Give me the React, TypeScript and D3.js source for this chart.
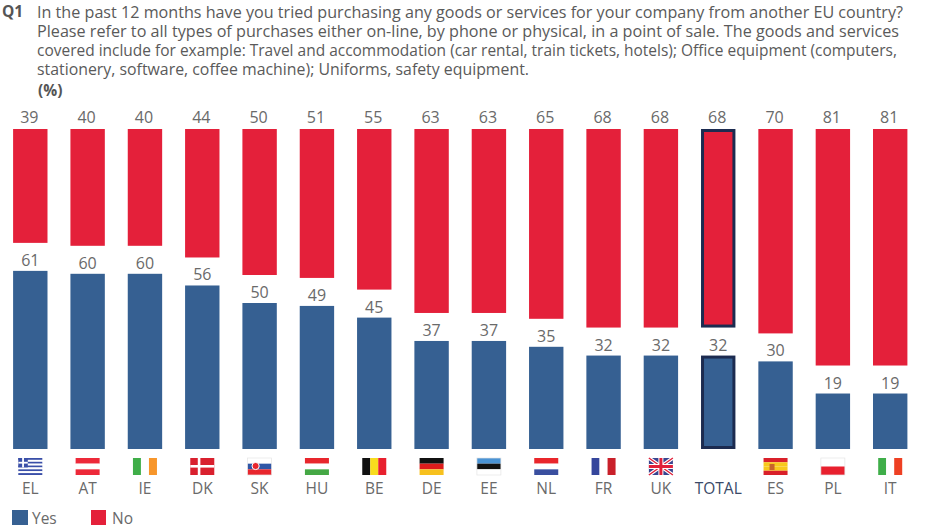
import React from "react";
import * as d3 from "d3";

const categories = ["EL","AT","IE","DK","SK","HU","BE","DE","EE","NL","FR","UK","TOTAL","ES","PL","IT"];
const yesValues = [61,60,60,56,50,49,45,37,37,35,32,32,32,30,19,19];
const noValues = [39,40,40,44,50,51,55,63,63,65,68,68,68,70,81,81];
const titleLines = [
  "In the past 12 months have you tried purchasing any goods or services for your company from another EU country?",
  "Please refer to all types of purchases either on-line, by phone or physical, in a point of sale. The goods and services",
  "covered include for example: Travel and accommodation (car rental, train tickets, hotels); Office equipment (computers,",
  "stationery, software, coffee machine); Uniforms, safety equipment.",
];
const titleWidths = [866, 862, 860, 492];
const FONT = "'Open Sans', sans-serif";
const BLUE = "#366092";
const RED = "#e4203a";
const NAVY = "#1c2b50";
const GREY = "#6a6a6a";

const x = d3.scaleBand<string>().domain(categories).range([4.5, 916]).paddingInner(0.4).paddingOuter(0.15);
const yYes = d3.scaleLinear().domain([0, 100]).range([449, 157]);
const yNo = d3.scaleLinear().domain([0, 100]).range([129, 421]);

const stripesH: Record<string, string[]> = {
  AT: ["#ed2939", "#ffffff", "#ed2939"],
  HU: ["#e8262d", "#ffffff", "#45a845"],
  DE: ["#111111", "#dd1c1c", "#f7c11e"],
  EE: ["#4a93d4", "#111111", "#ffffff"],
  NL: ["#e9262b", "#ffffff", "#3a4f9f"],
  PL: ["#ffffff", "#e8202e"],
  SK: ["#ffffff", "#2f56a6", "#e8262d"],
  ES: ["#d9202a", "#f8c81c", "#f8c81c", "#d9202a"],
};
const stripesV: Record<string, string[]> = {
  IE: ["#3fae49", "#ffffff", "#f7962b"],
  BE: ["#111111", "#f8dc1e", "#e8202e"],
  FR: ["#35469c", "#ffffff", "#c9202a"],
  IT: ["#3fae49", "#ffffff", "#ee4023"],
};
const outlinedFlags = ["EE", "PL", "SK"];

function Flag({ code, cx }: { code: string; cx: number }) {
  const w = 24, h = 17, l = cx - w / 2, t = 458;
  const hs = stripesH[code], vs = stripesV[code];
  if (code === "TOTAL") return null;
  const inner: React.ReactNode[] = [];
  if (hs) {
    hs.forEach((c, i) => inner.push(<rect key={i} x={l} y={t + (i * h) / hs.length} width={w} height={h / hs.length} fill={c} />));
    if (code === "SK") inner.push(<circle key="c" cx={l + 8} cy={t + 8} r={3.6} fill="#e8262d" stroke="#ffffff" strokeWidth={1} />);
    if (code === "ES") inner.push(<rect key="c" x={l + 6} y={t + 6} width={5} height={6} fill="#c8642a" />);
  } else if (vs) {
    vs.forEach((c, i) => inner.push(<rect key={i} x={l + (i * w) / vs.length} y={t} width={w / vs.length} height={h} fill={c} />));
  } else if (code === "EL") {
    const blue = "#3a4fa8";
    d3.range(9).forEach((i) => inner.push(<rect key={i} x={l} y={t + (i * h) / 9} width={w} height={h / 9} fill={i % 2 ? "#ffffff" : blue} />));
    inner.push(<rect key="b" x={l} y={t} width={9.5} height={9.4} fill={blue} />);
    inner.push(<rect key="h" x={l} y={t + 3.8} width={9.5} height={1.8} fill="#ffffff" />);
    inner.push(<rect key="v" x={l + 3.85} y={t} width={1.8} height={9.4} fill="#ffffff" />);
  } else if (code === "DK") {
    inner.push(<rect key="b" x={l} y={t} width={w} height={h} fill="#d9202e" />);
    inner.push(<rect key="h" x={l} y={t + 7} width={w} height={2.6} fill="#ffffff" />);
    inner.push(<rect key="v" x={l + 7.5} y={t} width={2.6} height={h} fill="#ffffff" />);
  } else if (code === "UK") {
    inner.push(<rect key="b" x={l} y={t} width={w} height={h} fill="#39448f" />);
    inner.push(<path key="dw" d={`M${l},${t}L${l + w},${t + h}M${l + w},${t}L${l},${t + h}`} stroke="#ffffff" strokeWidth={3.4} />);
    inner.push(<path key="dr" d={`M${l},${t}L${l + w},${t + h}M${l + w},${t}L${l},${t + h}`} stroke="#e0203a" strokeWidth={1.4} />);
    inner.push(<path key="cw" d={`M${l + w / 2},${t}V${t + h}M${l},${t + h / 2}H${l + w}`} stroke="#ffffff" strokeWidth={5} />);
    inner.push(<path key="cr" d={`M${l + w / 2},${t}V${t + h}M${l},${t + h / 2}H${l + w}`} stroke="#e0203a" strokeWidth={3} />);
  }
  return (
    <g>
      {inner}
      {outlinedFlags.includes(code) && <rect x={l} y={t} width={w} height={h} fill="none" stroke="#e4e4e4" strokeWidth={0.7} />}
    </g>
  );
}

export default function App() {
  const bw = x.bandwidth();
  return (
    <svg width={928} height={528} style={{ position: "absolute", left: 0, top: 0, background: "#fff" }} fontFamily={FONT}>
      <text x={2} y={17} fontSize={15.5} fontWeight={700} fill="#555">Q1</text>
      <text fontSize={15.8} fill="#5a5a5a">
        {titleLines.map((s, i) => (
          <tspan key={i} x={37} y={18 + i * 19} textLength={titleWidths[i]} lengthAdjust="spacingAndGlyphs">{s}</tspan>
        ))}
      </text>
      <text x={38} y={96} fontSize={15.5} fontWeight={700} fill="#555">(%)</text>

      {categories.map((c, i) => {
        const bx = x(c)!;
        const cx = bx + bw / 2;
        const total = c === "TOTAL";
        const yTop = yYes(yesValues[i]);
        const noBottom = yNo(noValues[i]);
        const inset = total ? 1.5 : 0;
        return (
          <g key={c}>
            <rect x={bx + inset} y={129 + inset} width={bw - 2 * inset} height={noBottom - 129 - 2 * inset} fill={RED} stroke={total ? NAVY : "none"} strokeWidth={total ? 3 : 0} />
            <rect x={bx + inset} y={yTop + inset} width={bw - 2 * inset} height={449 - yTop - 2 * inset} fill={BLUE} stroke={total ? NAVY : "none"} strokeWidth={total ? 3 : 0} />
            <text x={cx - 1} y={123} textAnchor="middle" fontSize={16} fill={GREY}>{noValues[i]}</text>
            <text x={cx} y={yTop - 5} textAnchor="middle" fontSize={16} fill={GREY}>{yesValues[i]}</text>
            <Flag code={c} cx={cx} />
            <text x={cx} y={494} textAnchor="middle" fontSize={15.5} fill={total ? "#3a4a68" : GREY}>{c}</text>
          </g>
        );
      })}

      <rect x={12} y={510} width={16} height={15} fill={BLUE} />
      <text x={32} y={524} fontSize={15.5} fill={GREY}>Yes</text>
      <rect x={91} y={510} width={15} height={15} fill={RED} />
      <text x={112} y={524} fontSize={15.5} fill={GREY}>No</text>
    </svg>
  );
}
